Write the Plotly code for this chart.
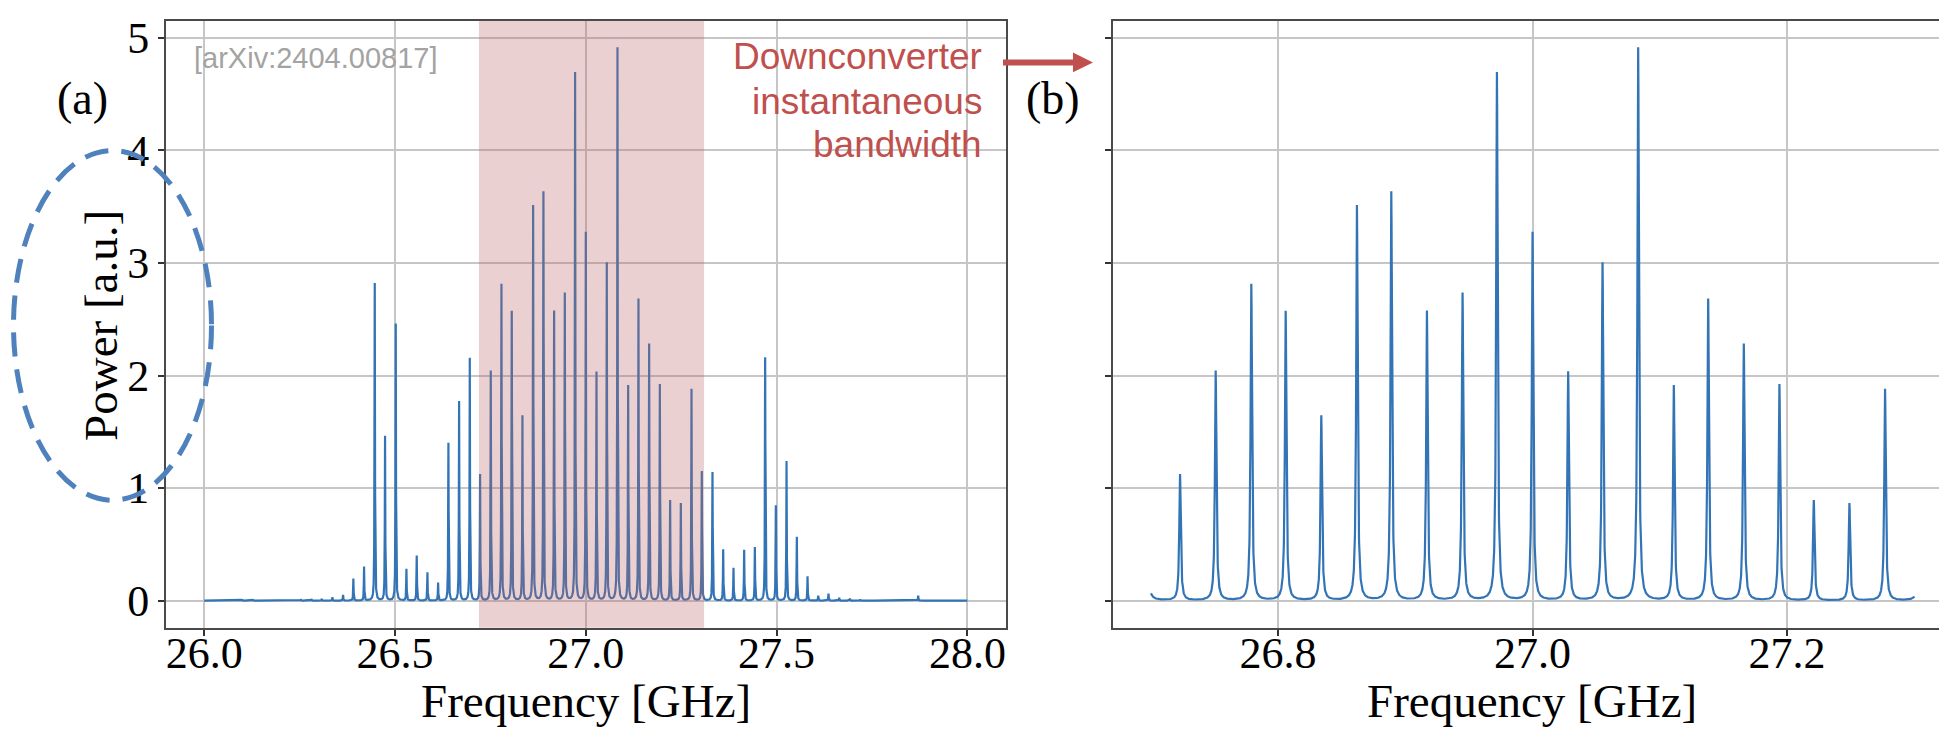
import numpy as np
import plotly.graph_objects as go

# ---------------- data ----------------
peak_freqs = [26.100, 26.128, 26.253, 26.281, 26.308, 26.336, 26.364, 26.391, 26.419,
              26.447, 26.474, 26.502, 26.530, 26.557, 26.585, 26.613, 26.640, 26.668,
              26.696, 26.723, 26.751, 26.779, 26.806, 26.834, 26.862, 26.889, 26.917,
              26.945, 26.972, 27.000, 27.028, 27.055, 27.083, 27.111, 27.138, 27.166,
              27.194, 27.221, 27.249, 27.277, 27.304, 27.332, 27.360, 27.387, 27.415,
              27.443, 27.470, 27.498, 27.526, 27.553, 27.581, 27.609, 27.636, 27.664,
              27.692, 27.719, 27.871]
peak_amps = [0.010, 0.010, 0.012, 0.015, 0.015, 0.030, 0.050, 0.196, 0.300,
             2.820, 1.460, 2.460, 0.280, 0.400, 0.250, 0.160, 1.400, 1.770,
             2.155, 1.120, 2.040, 2.810, 2.570, 1.640, 3.510, 3.630, 2.570,
             2.730, 4.690, 3.270, 2.030, 3.000, 4.910, 1.910, 2.680, 2.280,
             1.920, 0.890, 0.865, 1.880, 1.150, 1.140, 0.455, 0.290, 0.450,
             0.475, 2.160, 0.845, 1.240, 0.567, 0.215, 0.045, 0.063, 0.025,
             0.020, 0.010, 0.045]
full_span = [26.0, 28.0]          # GHz, panel (a)
zoom_span = [26.70, 27.30]        # GHz, panel (b)
band = [26.72, 27.31]             # downconverter instantaneous bandwidth
xticks_a = [26.0, 26.5, 27.0, 27.5, 28.0]
xticks_b = [26.8, 27.0, 27.2]
yticks = [0, 1, 2, 3, 4, 5]

# ---------------- spectrum (Lorentzian line shape for each read peak) -------------
gamma = 0.0007
f = np.union1d(np.arange(full_span[0], full_span[1] + 1e-9, 0.0001), np.array(peak_freqs))
pf = np.array(peak_freqs)[:, None]
pa = np.array(peak_amps)[:, None]
power = (pa * gamma**2 / ((f[None, :] - pf) ** 2 + gamma**2)).sum(axis=0)
mask_b = (f >= zoom_span[0]) & (f <= zoom_span[1])

W, H = 1939, 730
def px(x):
    return x / W
def py(y):
    return 1 - y / H

LINE = "#3274b5"
RED = "#C0504D"
SERIF = "Liberation Serif, Times New Roman, serif"
SANS = "Liberation Sans, Arial, sans-serif"

fig = go.Figure()
fig.add_trace(go.Scatter(x=f, y=power, mode="lines", line=dict(color=LINE, width=2.2),
                         xaxis="x", yaxis="y", showlegend=False, hoverinfo="skip"))
fig.add_trace(go.Scatter(x=f[mask_b], y=power[mask_b], mode="lines",
                         line=dict(color=LINE, width=2.2),
                         xaxis="x2", yaxis="y2", showlegend=False, hoverinfo="skip"))

yr = [-0.24, 5.15]
ydom = [py(626.7), py(14)]
common_axis = dict(showgrid=True, gridcolor="#c6c6c6", gridwidth=1.8, zeroline=False,
                   showline=True, linecolor="#4a4a4a", linewidth=2,
                   ticks="outside", ticklen=6, tickcolor="#333", tickwidth=1.5,
                   tickfont=dict(family=SERIF, size=44, color="black"))

x_a_lo = 25.9
x_a_hi = 28.1
x_b_lo = 26.67
px_per_ghz_b = (1952.5 - 1112.6) / 0.66
x_b_hi = x_b_lo + (W - 1112.6) / px_per_ghz_b

fig.update_layout(
    width=W, height=H, margin=dict(l=0, r=0, t=0, b=0),
    paper_bgcolor="white", plot_bgcolor="white",
    xaxis=dict(domain=[px(166), px(1005.6)], range=[x_a_lo, x_a_hi], anchor="y",
               tickvals=xticks_a, ticktext=[f"{v:.1f}" for v in xticks_a],
               mirror=True, ticklabelstandoff=-20, **common_axis),
    yaxis=dict(domain=ydom, range=yr, anchor="x", tickvals=yticks,
               mirror=True, **common_axis),
    xaxis2=dict(domain=[px(1112.6), 1.0], range=[x_b_lo, x_b_hi], anchor="y2",
                tickvals=xticks_b, ticktext=[f"{v:.1f}" for v in xticks_b],
                mirror=True, ticklabelstandoff=-20, **common_axis),
    yaxis2=dict(domain=ydom, range=yr, anchor="x2", tickvals=yticks,
                showticklabels=False, mirror=False, **common_axis),
)

shapes = [
    dict(type="rect", xref="x", yref="y domain", x0=band[0], x1=band[1], y0=0, y1=1,
         fillcolor="rgba(190,100,104,0.30)", line=dict(width=0), layer="above"),
    # dashed ellipse highlighting the y label
    dict(type="circle", xref="paper", yref="paper", x0=px(13.5), x1=px(211.5),
         y0=py(498), y1=py(145), line=dict(color="#4F81BD", width=5, dash="24px,13px"),
         layer="above"),
    # arrow shaft and head
    dict(type="line", xref="paper", yref="paper", x0=px(1003), x1=px(1076),
         y0=py(56), y1=py(56), line=dict(color=RED, width=6)),
    dict(type="path", xref="paper", yref="paper",
         path=f"M {px(1073)} {py(46)} L {px(1093)} {py(56)} L {px(1073)} {py(66)} Z",
         fillcolor=RED, line=dict(width=0)),
]
fig.update_layout(shapes=shapes)

ann = []
def add_text(text, x, y, size, family=SERIF, color="black", xanchor="center",
             yanchor="middle", angle=0):
    ann.append(dict(text=text, x=px(x), y=py(y), xref="paper", yref="paper",
                    showarrow=False, xanchor=xanchor, yanchor=yanchor, textangle=angle,
                    font=dict(family=family, size=size, color=color)))

add_text("Frequency [GHz]", 586, 701, 47)
add_text("Frequency [GHz]", 1532, 701, 47)
add_text("Power [a.u.]", 101, 322, 47, angle=-90)
add_text("(a)", 82, 92, 46)
add_text("(b)", 1053, 92, 46)
add_text("[arXiv:2404.00817]", 315, 51, 29, family=SANS, color="#a3a3a3")
add_text("Downconverter", 984, 50, 37, family=SANS, color=RED, xanchor="right")
add_text("instantaneous", 984, 95, 37, family=SANS, color=RED, xanchor="right")
add_text("bandwidth", 984, 139, 37, family=SANS, color=RED, xanchor="right")
fig.update_layout(annotations=ann)

fig.write_html("out.html", config={"displayModeBar": False},
               post_script="document.body.style.margin='0';document.body.style.overflow='hidden';")
